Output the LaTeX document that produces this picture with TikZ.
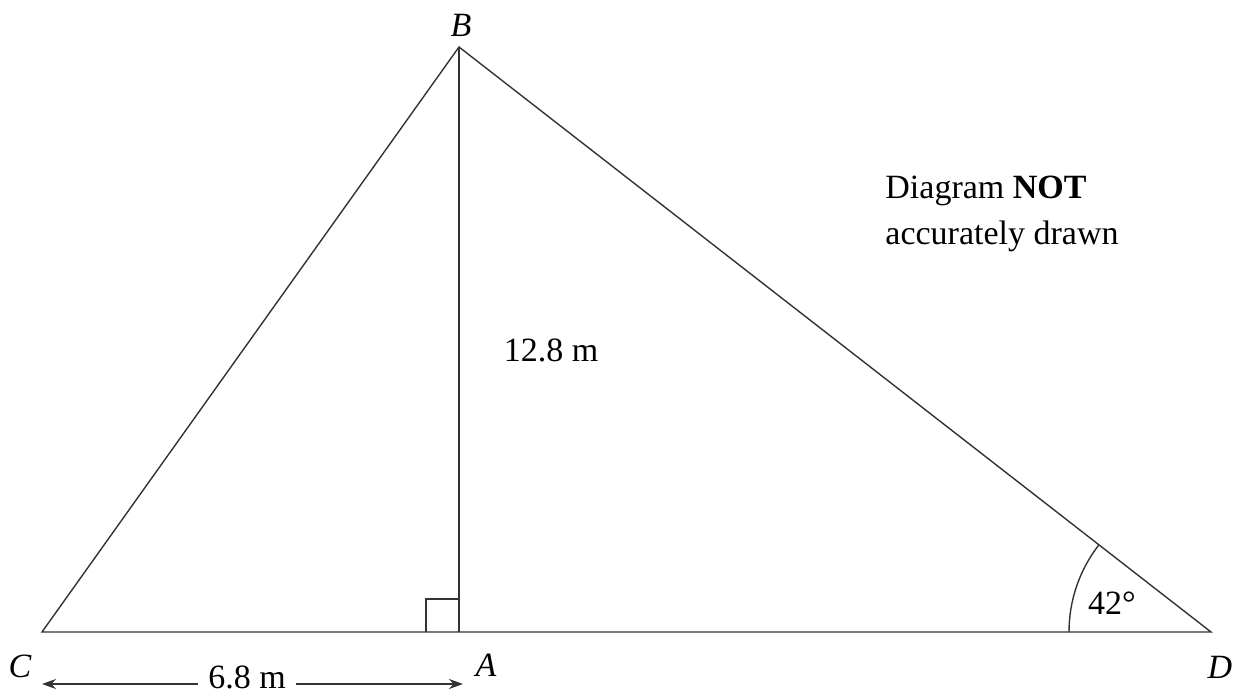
\documentclass[tikz,border=0pt]{standalone}
\usepackage{fontspec}
\setmainfont{Liberation Serif}
\usetikzlibrary{arrows.meta}
\begin{document}
\begin{tikzpicture}[x=0.5pt,y=-0.5pt,
  edge/.style={draw=black!80,line width=0.7pt},
  lbl/.style={font=\fontsize{17}{22}\selectfont,inner sep=0pt},
  vlabel/.style={lbl,font=\fontsize{17}{22}\selectfont\itshape},
  dimarrow/.style={edge,-{Stealth[length=7pt,width=5pt]}}]
\useasboundingbox (0,0) rectangle (1236,695);
\coordinate (C) at (42,632);
\coordinate (A) at (459,632);
\coordinate (B) at (459,47);
\coordinate (D) at (1211,632);
% triangle
\draw[edge] (C) -- (D) -- (B) -- cycle;
\draw[edge] (B) -- (A);
% right angle
\draw[edge] (426,632) -- (426,599) -- (459,599);
% angle arc at D
\draw[edge] (D) ++(-142,0) arc[start angle=180,end angle=217.9,radius=142];
% vertex labels
\node[vlabel] (lC) at (20,666) {C};
\node[vlabel] (lA) at (486,665) {A};
\node[vlabel] (lB) at (461,25) {B};
\node[vlabel] (lD) at (1220,667) {D};
% measurements
\node[lbl] (ang) at (1112,603) {42°};
\node[lbl] (h) at (551,350) {12.8 m};
\node[lbl,inner xsep=5pt,anchor=base] (len) at (247,688) {6.8 m};
\coordinate (Lend) at (42,684);
\coordinate (Rend) at (463,684);
\draw[dimarrow] (Lend -| len.west) -- (Lend);
\draw[dimarrow] (Rend -| len.east) -- (Rend);
% note
\node[lbl,align=left,anchor=north west] (note) at (885,176) {Diagram \textbf{NOT}\\[1pt]accurately drawn};
\end{tikzpicture}
\end{document}
